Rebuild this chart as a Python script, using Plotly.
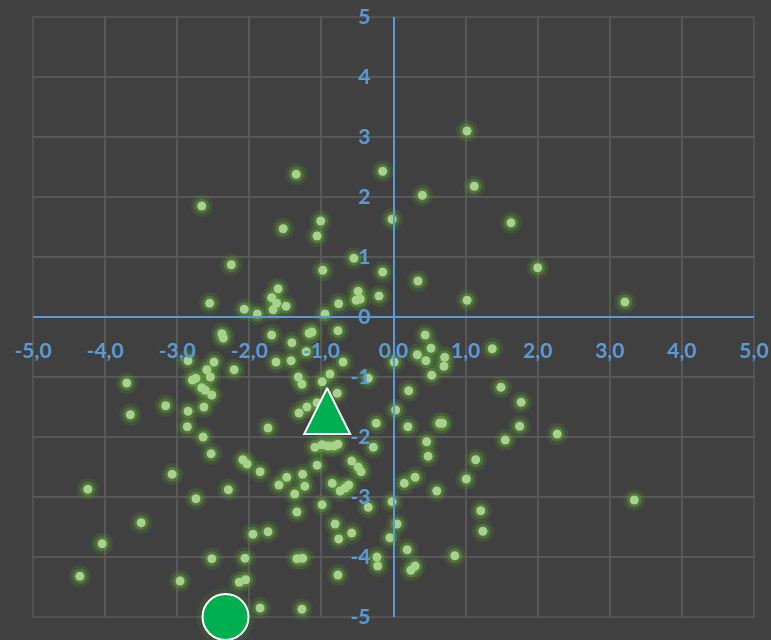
import plotly.graph_objects as go

# Scatter points (x, y)
pts_x = [1.02, -0.15, -1.35, 1.12, 0.40, -2.66, 1.63, -1.53, -1.01, -0.02,
         -1.06, -2.25, -0.55, -0.98, -0.15, 2.00, 0.34, 1.02, 3.21, -2.55,
         -2.07, -1.89, -1.60, -1.69, -1.62, -1.49, -1.67, -0.49, -0.46, -0.52,
         -0.76, -0.95, -0.20,
         -2.38, -2.36, -1.69, -1.17, -1.13, -0.77, -1.41, -1.21, -2.85, -2.49,
         -2.21, -1.63, -1.42, -0.70, -2.59, -2.54, -2.79, -2.74, -2.66, -2.61,
         -2.52, -1.32, -1.27, -0.99, -0.88, -0.78, -3.16, -2.85, -2.63, -1.20,
         -1.31, -1.06, -2.86, -2.64, -1.74, -0.24, -0.28, -1.09, -0.99, -0.91,
         -0.83, -0.77, -3.70, -3.65, -2.53, -2.09, -2.03, -1.85, -3.07, -4.24,
         -2.74, -2.29, -3.50, -4.04, -1.95, -1.74, -2.52, -2.06, -4.35, -2.96,
         -2.14, -2.05, -1.85, -1.27, -1.34, -1.26, -0.77, -0.76, -0.58, -0.81,
         -1.34, -0.99, -0.35, -1.37, -1.59, -1.48, -1.26, -1.23, -1.06, -0.85,
         -0.74, -0.67, -0.62, -0.58, -0.49, -0.45, -0.23, -0.22, -0.05, -0.02,
         0.05, 0.20, 0.64, 0.46, 0.48, 1.14, 1.55, 0.15, 0.30, 0.60,
         1.01, 1.21, 1.24, 0.85, 0.19, 0.24, 0.30, 0.44, 0.52, 0.33,
         0.45, 0.71, 0.70, 0.53, 0.01, 1.37, 0.21, 1.49, 1.77, 0.03,
         1.75, 2.27, 3.34, -0.35, 0.68]
pts_y = [3.10, 2.43, 2.38, 2.18, 2.03, 1.85, 1.57, 1.47, 1.60, 1.63,
         1.35, 0.87, 0.98, 0.78, 0.75, 0.82, 0.60, 0.28, 0.25, 0.23,
         0.13, 0.05, 0.47, 0.32, 0.23, 0.18, 0.12, 0.43, 0.30, 0.28,
         0.22, 0.05, 0.35,
         -0.28, -0.35, -0.30, -0.27, -0.25, -0.23, -0.43, -0.58, -0.73, -0.75,
         -0.88, -0.75, -0.73, -0.75, -0.88, -1.00, -1.05, -1.02, -1.18, -1.22,
         -1.30, -1.00, -1.12, -1.08, -0.95, -1.27, -1.48, -1.57, -1.50, -1.50,
         -1.60, -1.43, -1.83, -2.00, -1.85, -1.77, -2.17, -2.17, -2.13, -2.15,
         -2.15, -2.12, -1.10, -1.63, -2.28, -2.38, -2.45, -2.58, -2.62, -2.87,
         -3.03, -2.88, -3.43, -3.78, -3.62, -3.58, -4.03, -4.02, -4.32, -4.40,
         -4.42, -4.38, -4.85, -4.87, -4.03, -4.02, -4.30, -3.70, -3.60, -3.45,
         -3.25, -3.13, -3.17, -2.95, -2.80, -2.67, -2.62, -2.82, -2.47, -2.77,
         -2.90, -2.85, -2.80, -2.40, -2.50, -2.58, -4.00, -4.15, -3.68, -3.08,
         -3.45, -1.83, -1.77, -2.08, -2.32, -2.38, -2.05, -2.77, -2.67, -2.90,
         -2.70, -3.23, -3.57, -3.98, -3.88, -4.22, -4.15, -0.30, -0.52, -0.63,
         -0.73, -0.67, -0.82, -0.97, -0.75, -0.53, -1.23, -1.17, -1.42, -1.55,
         -1.82, -1.95, -3.05, -1.02, -1.77]

# Highlighted markers
tri_x = [-0.92]
tri_y = [-1.55]
circ_x = [-2.33]
circ_y = [-5.0]

tick_vals = [-5, -4, -3, -2, -1, 0, 1, 2, 3, 4, 5]
x_tick_text = ["-5,0", "-4,0", "-3,0", "-2,0", "-1,0", "0,0", "1,0", "2,0", "3,0", "4,0", "5,0"]
y_tick_text = ["-5", "-4", "-3", "-2", "-1", "0", "1", "2", "3", "4", "5"]

BG = "#404040"
GRID = "#585858"
BLUE = "#5B9BD5"
FONT = dict(family="Lato, 'Open Sans', sans-serif", size=21, color=BLUE, weight="bold")

fig = go.Figure()

# glow layers
fig.add_trace(go.Scatter(x=pts_x, y=pts_y, mode="markers", hoverinfo="skip",
                         marker=dict(size=22, color="rgba(84,140,50,0.22)", line=dict(width=0)),
                         cliponaxis=False))
fig.add_trace(go.Scatter(x=pts_x, y=pts_y, mode="markers", hoverinfo="skip",
                         marker=dict(size=15, color="rgba(100,165,60,0.40)", line=dict(width=0)),
                         cliponaxis=False))
fig.add_trace(go.Scatter(x=pts_x, y=pts_y, mode="markers",
                         marker=dict(size=9, color="#A9D18E", line=dict(width=0)),
                         cliponaxis=False))

# big markers
fig.add_trace(go.Scatter(x=circ_x, y=circ_y, mode="markers", hoverinfo="skip",
                         marker=dict(size=58, color="rgba(84,140,50,0.18)", line=dict(width=0)),
                         cliponaxis=False))
fig.add_trace(go.Scatter(x=tri_x, y=tri_y, mode="markers",
                         marker=dict(symbol="arrow-down", angle=180, size=46, standoff=22,
                                     color="#00B050", line=dict(color="white", width=2)),
                         cliponaxis=False))
fig.add_trace(go.Scatter(x=circ_x, y=circ_y, mode="markers",
                         marker=dict(symbol="circle", size=46, color="#00B050",
                                     line=dict(color="white", width=2)),
                         cliponaxis=False))

fig.update_layout(
    width=771, height=640,
    margin=dict(l=33, r=17, t=17, b=23),
    paper_bgcolor=BG, plot_bgcolor=BG,
    showlegend=False,
    xaxis=dict(range=[-5, 5], tickvals=tick_vals, ticktext=x_tick_text,
               showgrid=True, gridcolor=GRID, gridwidth=1.5,
               zeroline=False, showline=True, linecolor=BLUE, linewidth=1.5,
               anchor="free", position=0.5, ticks="", tickfont=FONT,
               ticklabelstandoff=15, automargin=False),
    yaxis=dict(range=[-5, 5], tickvals=tick_vals, ticktext=y_tick_text,
               showgrid=True, gridcolor=GRID, gridwidth=1.5,
               zeroline=False, showline=True, linecolor=BLUE, linewidth=1.5,
               anchor="free", position=0.5, ticks="", tickfont=FONT,
               ticklabelstandoff=18, automargin=False),
    shapes=[dict(type="rect", xref="paper", yref="paper", x0=0, x1=1, y0=0, y1=1,
                 line=dict(color=GRID, width=1.5), layer="below")],
)

fig.write_html("out.html", config={"displayModeBar": False},
               post_script="document.body.style.margin='0';document.body.style.background='#404040';")
